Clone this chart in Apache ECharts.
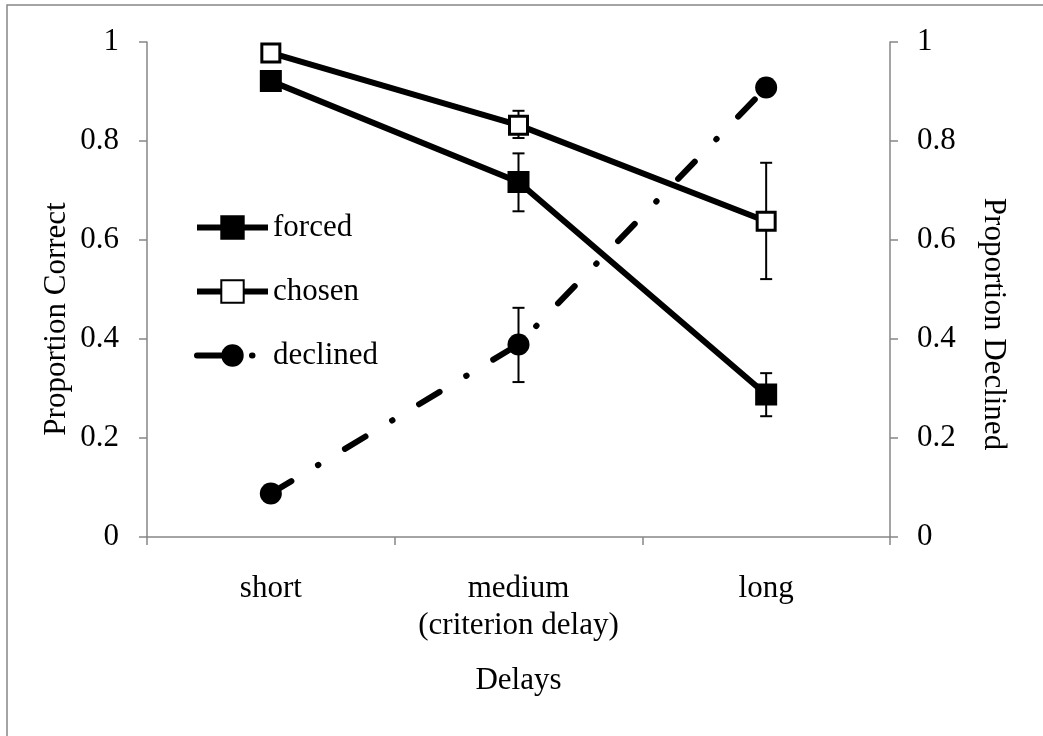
<!DOCTYPE html>
<html><head><meta charset="utf-8">
<script src="https://cdn.jsdelivr.net/npm/echarts@6/dist/echarts.min.js"></script>
<style>html,body{margin:0;padding:0;background:#fff}#c{width:1043px;height:736px}</style>
</head><body><div id="c"></div>
<script>
const categories = ['short', 'medium\n(criterion delay)', 'long'];
const forced = [0.921, 0.717, 0.288];
const chosen = [0.978, 0.832, 0.638];
const declined = [0.088, 0.389, 0.908];
const forcedErrLow = [null, 0.658, 0.244];
const forcedErrHigh = [null, 0.775, 0.331];
const chosenErrLow = [null, 0.806, 0.521];
const chosenErrHigh = [null, 0.861, 0.756];
const declinedErrLow = [null, 0.313, null];
const declinedErrHigh = [null, 0.463, null];
const yTicks = [0, 0.2, 0.4, 0.6, 0.8, 1];
const leftTitle = 'Proportion Correct';
const rightTitle = 'Proportion Declined';
const xTitle = 'Delays';

const FONT = 'Liberation Serif';
const FS = 31;
const AXIS = '#868686';

function errData(lo, hi) {
  const out = [];
  for (let i = 0; i < lo.length; i++) {
    if (lo[i] != null && hi[i] != null) out.push([i, lo[i], hi[i]]);
  }
  return out;
}
function errRender(params, api) {
  const x = api.value(0);
  const lo = api.coord([x, api.value(1)]);
  const hi = api.coord([x, api.value(2)]);
  const hw = 6;
  const st = {stroke: '#000', lineWidth: 2};
  return {
    type: 'group',
    children: [
      {type: 'line', shape: {x1: lo[0], y1: lo[1], x2: hi[0], y2: hi[1]}, style: st},
      {type: 'line', shape: {x1: lo[0]-hw, y1: lo[1], x2: lo[0]+hw, y2: lo[1]}, style: st},
      {type: 'line', shape: {x1: hi[0]-hw, y1: hi[1], x2: hi[0]+hw, y2: hi[1]}, style: st}
    ]
  };
}
function yAxisCfg(pos) {
  return {
    type: 'value', min: 0, max: 1, interval: 0.2, position: pos,
    axisLine: {show: true, lineStyle: {color: AXIS, width: 1.5}},
    axisTick: {show: true, length: 8, lineStyle: {color: AXIS, width: 1.5}},
    splitLine: {show: false},
    axisLabel: {fontFamily: FONT, fontSize: FS, color: '#000', margin: pos === 'left' ? 28 : 27,
      formatter: v => String(+v.toFixed(1))}
  };
}

const chart = echarts.init(document.getElementById('c'), null, {renderer: 'canvas'});
chart.setOption({
  animation: false,
  backgroundColor: '#fff',
  graphic: [
    {type: 'rect', shape: {x: 7, y: 5, width: 1200, height: 900},
      style: {fill: 'none', stroke: AXIS, lineWidth: 1.5}, silent: true},
    {type: 'text', x: 57, y: 319, rotation: Math.PI / 2, silent: true,
      style: {text: leftTitle, fontFamily: FONT, fontSize: FS, fill: '#000', align: 'center', verticalAlign: 'middle'}},
    {type: 'text', x: 993, y: 324, rotation: -Math.PI / 2, silent: true,
      style: {text: rightTitle, fontFamily: FONT, fontSize: FS, fill: '#000', align: 'center', verticalAlign: 'middle'}}
  ],
  grid: {left: 147, right: 153, top: 42, bottom: 199},
  legend: {
    orient: 'vertical', left: 189, top: 207, itemWidth: 71, itemHeight: 28, itemGap: 33,
    lineStyle: {width: 6},
    textStyle: {fontFamily: FONT, fontSize: FS, color: '#000', lineHeight: 28},
    data: ['forced', 'chosen', 'declined']
  },
  xAxis: {
    type: 'category', data: categories, boundaryGap: true,
    name: xTitle, nameLocation: 'middle', nameGap: 128,
    nameTextStyle: {fontFamily: FONT, fontSize: FS, color: '#000'},
    axisLine: {lineStyle: {color: AXIS, width: 1.5}},
    axisTick: {show: true, length: 8, alignWithLabel: false, lineStyle: {color: AXIS, width: 1.5}},
    axisLabel: {fontFamily: FONT, fontSize: FS, color: '#000', margin: 33, lineHeight: 37, interval: 0}
  },
  yAxis: [yAxisCfg('left'), yAxisCfg('right')],
  series: [
    {type: 'custom', name: 'errF', yAxisIndex: 0, z: 1, renderItem: errRender, data: errData(forcedErrLow, forcedErrHigh), silent: true},
    {type: 'custom', name: 'errC', yAxisIndex: 0, z: 1, renderItem: errRender, data: errData(chosenErrLow, chosenErrHigh), silent: true},
    {type: 'custom', name: 'errD', yAxisIndex: 1, z: 1, renderItem: errRender, data: errData(declinedErrLow, declinedErrHigh), silent: true},
    {type: 'line', name: 'forced', yAxisIndex: 0, z: 3, data: forced, symbol: 'rect', symbolSize: 20,
      itemStyle: {color: '#000', borderColor: '#000', borderWidth: 2},
      lineStyle: {color: '#000', width: 6}},
    {type: 'line', name: 'chosen', yAxisIndex: 0, z: 3, data: chosen, symbol: 'rect', symbolSize: 18,
      itemStyle: {color: '#fff', borderColor: '#000', borderWidth: 3},
      lineStyle: {color: '#000', width: 6}},
    {type: 'line', name: 'declined', yAxisIndex: 1, z: 3, data: declined, symbol: 'circle', symbolSize: 22,
      itemStyle: {color: '#000', borderColor: '#000', borderWidth: 0},
      lineStyle: {color: '#000', width: 6, type: [24, 31, 0.5, 31], cap: 'round'}}
  ]
});
</script></body></html>
